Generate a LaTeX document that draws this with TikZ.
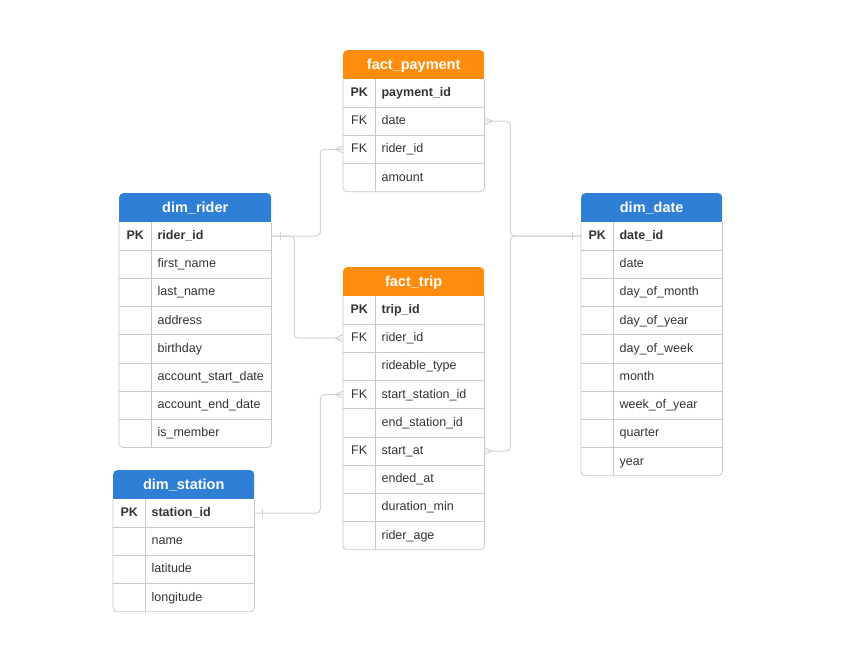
\documentclass[tikz,border=0pt]{standalone}
\usepackage{fontspec}
\setmainfont{Liberation Sans}
\usetikzlibrary{positioning}
\definecolor{azul}{HTML}{2F7FD7}
\definecolor{naranja}{HTML}{FF8C0C}
\definecolor{borde}{HTML}{C8C8C8}
\definecolor{enlacec}{HTML}{D2D2D2}
\definecolor{texto}{HTML}{333333}
\tikzset{
  cabecera/.style={anchor=north west, minimum height=28.5, inner sep=0pt, text=white,
    text height=11.5, text depth=2, font=\fontsize{14.5}{16}\selectfont\bfseries, rounded corners=4},
  fila/.style={minimum height=27.8, inner sep=0pt},
  clave/.style={anchor=west, minimum width=32, inner sep=0pt, text height=10, text depth=3,
    text=texto, font=\fontsize{12.5}{14}\selectfont},
  campo/.style={anchor=west, inner sep=0pt, text height=10, text depth=3,
    text=texto, font=\fontsize{12.5}{14}\selectfont},
  linea/.style={draw=borde, line width=0.8},
  enlace/.style={draw=enlacec, line width=1, rounded corners=4}
}
% tabla: nombre, posicion, ancho, color, titulo, n filas, filas
\newcommand{\tabla}[7]{%
  \node[cabecera, fill=#4, minimum width=#3] (#1-0) at #2 {#5};
  \fill[#4] ([yshift=6pt]#1-0.south west) rectangle (#1-0.south east);
  \foreach \k/\f [count=\i, evaluate=\i as \j using int(\i-1)] in {#7} {
    \node[fila, minimum width=#3, below=0pt of #1-\j] (#1-\i) {};
    \node[clave, right=0pt of #1-\i.west] (#1-k\i) {\ifnum\i=1\bfseries\fi\k};
    \node[campo, right=6pt of #1-k\i.east] (#1-f\i) {\ifnum\i=1\bfseries\fi\f};
    \ifnum\i<#6 \draw[linea] (#1-\i.south west) -- (#1-\i.south east); \fi
  }
  \draw[linea] ([xshift=32pt]#1-1.north west) -- ([xshift=32pt]#1-#6.south west);
  \draw[linea, rounded corners=4] (#1-0.south west) |- (#1-#6.south east) -- (#1-0.south east);
}
\newcommand{\pata}[2]{\draw[enlace] ([xshift=#2]#1) -- ([yshift=3.5pt]#1) ([xshift=#2]#1) -- ([yshift=-3.5pt]#1);}
\newcommand{\barra}[2]{\draw[enlace] ([xshift=#2,yshift=4pt]#1) -- ([xshift=#2,yshift=-4pt]#1);}
\begin{document}
\begin{tikzpicture}[x=1pt,y=-1pt]
\useasboundingbox (0,0) rectangle (861,662);
% tablas
\tabla{pay}{(343,50)}{141}{naranja}{fact\_payment}{4}{PK/payment\_id, FK/date, FK/rider\_id, /amount}
\tabla{rider}{(119,193)}{152}{azul}{dim\_rider}{8}{PK/rider\_id, /first\_name, /last\_name, /address, /birthday, /account\_start\_date, /account\_end\_date, /is\_member}
\tabla{trip}{(343,267)}{141}{naranja}{fact\_trip}{9}{PK/trip\_id, FK/rider\_id, /rideable\_type, FK/start\_station\_id, /end\_station\_id, FK/start\_at, /ended\_at, /duration\_min, /rider\_age}
\tabla{date}{(581,193)}{141}{azul}{dim\_date}{9}{PK/date\_id, /date, /day\_of\_month, /day\_of\_year, /day\_of\_week, /month, /week\_of\_year, /quarter, /year}
\tabla{station}{(113,470)}{141}{azul}{dim\_station}{4}{PK/station\_id, /name, /latitude, /longitude}
% relaciones
\draw[enlace] (rider-1.east) -- ++(49,0) |- (pay-3.west);
\draw[enlace] (rider-1.east) -- ++(23,0) |- (trip-2.west);
\draw[enlace] (station-1.east) -- ++(66,0) |- (trip-4.west);
\draw[enlace] (pay-2.east) -- ++(26,0) |- (date-1.west);
\draw[enlace] (trip-6.east) -- ++(26,0) |- (date-1.west);
\pata{pay-3.west}{-8pt}
\pata{trip-2.west}{-8pt}
\pata{trip-4.west}{-8pt}
\pata{pay-2.east}{8pt}
\pata{trip-6.east}{8pt}
\barra{rider-1.east}{9pt}
\barra{station-1.east}{8pt}
\barra{date-1.west}{-9pt}
\end{tikzpicture}
\end{document}
